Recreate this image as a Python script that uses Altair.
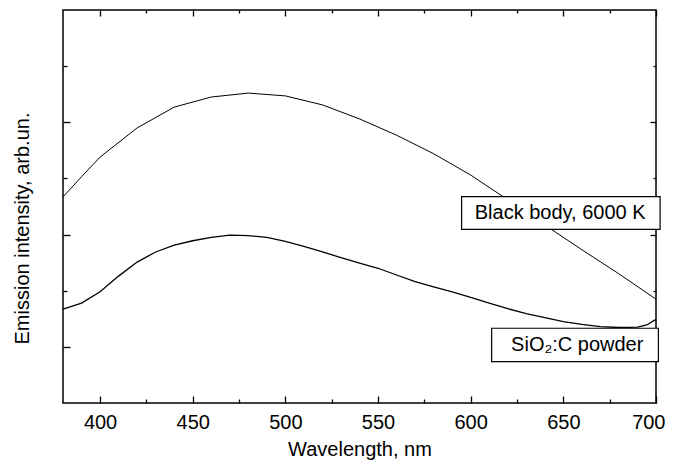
import altair as alt
import pandas as pd

# Black body, 6000 K (upper curve)
wl_bb = [380, 390, 400, 420, 440, 460, 480, 500, 520, 540, 560, 580, 600, 620, 640, 660, 680, 700]
int_bb = [3.67, 4.03, 4.38, 4.90, 5.27, 5.45, 5.52, 5.47, 5.31, 5.06, 4.77, 4.44, 4.06, 3.62, 3.17, 2.73, 2.30, 1.85]

# SiO2:C powder (lower curve)
wl_sio = [380, 390, 400, 410, 420, 430, 440, 450, 460, 470, 480, 490, 500, 510, 520, 530, 540,
          550, 560, 570, 580, 590, 600, 610, 620, 630, 640, 650, 660, 670, 680, 690, 695, 700]
int_sio = [1.67, 1.78, 1.98, 2.26, 2.51, 2.69, 2.81, 2.89, 2.95, 2.99, 2.98, 2.95, 2.88, 2.79,
           2.69, 2.59, 2.49, 2.40, 2.28, 2.16, 2.07, 1.98, 1.88, 1.78, 1.68, 1.59, 1.52, 1.45,
           1.40, 1.36, 1.345, 1.35, 1.39, 1.49]

# label boxes and texts
box_x1 = [595.1, 611.3]
box_x2 = [702.2, 701.3]
box_y1 = [3.675, 1.331]
box_y2 = [3.094, 0.736]
label_text = ["Black body, 6000 K", "SiO\u2082:C powder"]
label_x = [648.3, 657.5]
label_y = [3.385, 1.03]

x_major = [400, 450, 500, 550, 600, 650, 700]
x_minor = [425, 475, 525, 575, 625, 675]
y_major = [1, 3, 5]
y_minor = [2, 4, 6]

XD = [380, 700]
YD = [0, 7]
W, H = 593, 393
FONT = "Liberation Sans"

df_bb = pd.DataFrame({"wl": wl_bb, "v": int_bb})
df_sio = pd.DataFrame({"wl": wl_sio, "v": int_sio})
df_box = pd.DataFrame({"x1": box_x1, "x2": box_x2, "y1": box_y1, "y2": box_y2})
df_lab1 = pd.DataFrame({"x": label_x[:1], "y": label_y[:1], "t": label_text[:1]})
df_lab2 = pd.DataFrame({"x": label_x[1:], "y": label_y[1:], "t": label_text[1:]})


def tick_axis(orient, values, size, offset):
    return alt.Axis(orient=orient, values=values, tickSize=size, offset=offset,
                    labels=False, domain=False, grid=False, ticks=True,
                    tickColor="black", tickWidth=1.3, title="")


xs = alt.Scale(domain=XD, nice=False, zero=False)
ys = alt.Scale(domain=YD, nice=False, zero=False)

x_label_axis = alt.Axis(orient="bottom", values=x_major, ticks=False, tickSize=0, domain=False,
                        grid=False, labelFont=FONT, labelFontSize=20, labelColor="black",
                        labelPadding=9, labelFlush=True, labelFlushOffset=9,
                        title="Wavelength, nm", titleFont=FONT, titleFontSize=20,
                        titleFontWeight="normal", titleColor="black", titleY=52,
                        titleBaseline="alphabetic")
y_title_axis = alt.Axis(orient="left", ticks=False, tickSize=0, domain=False, labels=False,
                        grid=False, title="Emission intensity, arb.un.", titleFont=FONT,
                        titleFontSize=20, titleFontWeight="normal", titleColor="black",
                        titleX=-41, titleY=218, titleAngle=270, titleBaseline="middle",
                        titleAlign="center")

l1 = alt.Chart(df_bb).mark_line(color="black", strokeWidth=1).encode(
    x=alt.X("wl:Q", scale=xs, axis=x_label_axis),
    y=alt.Y("v:Q", scale=ys, axis=y_title_axis),
)
l2 = alt.Chart(df_sio).mark_line(color="black", strokeWidth=1.3).encode(
    x=alt.X("wl:Q", scale=xs, axis=tick_axis("top", x_major, 7, -H)),
    y=alt.Y("v:Q", scale=ys, axis=tick_axis("right", y_major, 7, -W)),
)
l3 = alt.Chart(df_box).mark_rect(fill="white", stroke="black", strokeWidth=1.2).encode(
    x=alt.X("x1:Q", scale=xs, axis=tick_axis("top", x_minor, 4, -H)),
    x2="x2:Q",
    y=alt.Y("y1:Q", scale=ys, axis=tick_axis("right", y_minor, 4, -W)),
    y2="y2:Q",
)
l4 = alt.Chart(df_lab1).mark_text(font=FONT, fontSize=20, color="black", align="center",
                                  baseline="middle").encode(
    x=alt.X("x:Q", scale=xs, axis=tick_axis("bottom", x_major, 6, -H)),
    y=alt.Y("y:Q", scale=ys, axis=tick_axis("left", y_major, 6, -W)),
    text="t:N",
)
l5 = alt.Chart(df_lab2).mark_text(font=FONT, fontSize=20, color="black", align="center",
                                  baseline="middle").encode(
    x=alt.X("x:Q", scale=xs, axis=tick_axis("bottom", x_minor, 3, -H)),
    y=alt.Y("y:Q", scale=ys, axis=tick_axis("left", y_minor, 3, -W)),
    text="t:N",
)

chart = alt.layer(l1, l2, l3, l4, l5).resolve_axis(
    x="independent", y="independent"
).properties(
    width=W, height=H,
    autosize=alt.AutoSizeParams(type="none"),
    padding={"left": 55, "top": 2, "right": 10, "bottom": 57},
    background="white",
).configure_view(stroke="black", strokeWidth=1.5)

chart.save("out.html", embed_options={"renderer": "svg", "actions": False})
